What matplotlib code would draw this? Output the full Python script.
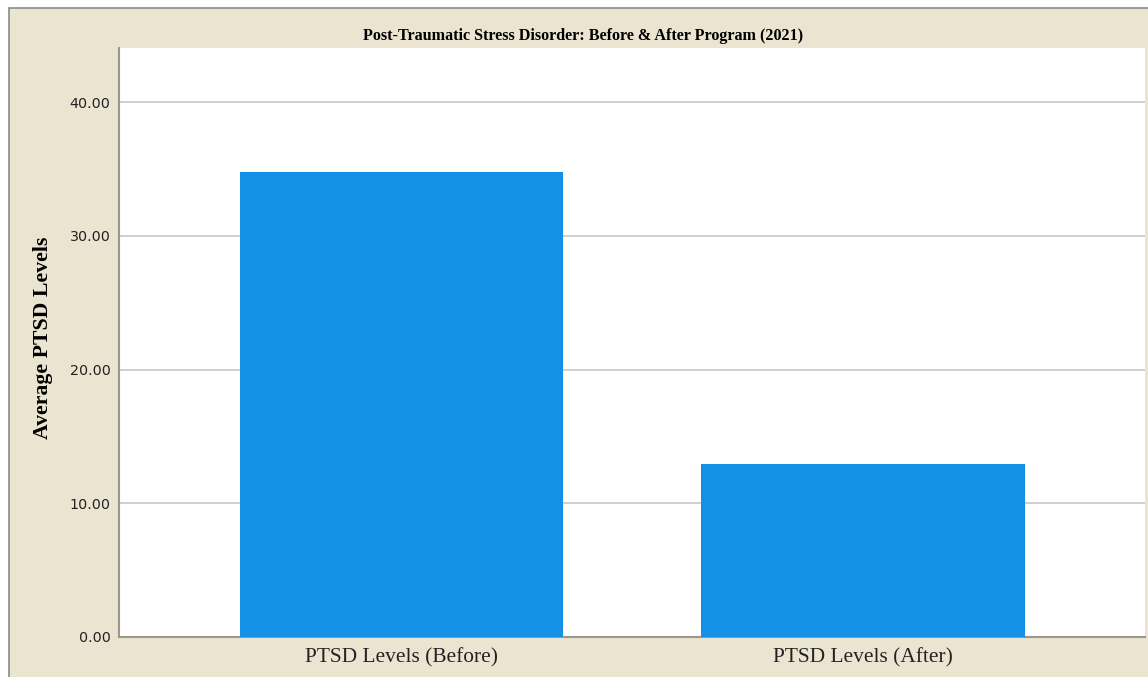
import matplotlib
matplotlib.use("Agg")
import matplotlib.pyplot as plt
from matplotlib.patches import Rectangle
from matplotlib.ticker import FormatStrFormatter

categories = ["PTSD Levels (Before)", "PTSD Levels (After)"]
values = [34.8, 12.95]
yticks = [0, 10, 20, 30, 40]
title = "Post-Traumatic Stress Disorder: Before & After Program (2021)"
ylabel = "Average PTSD Levels"

W, H = 1148, 677
fig = plt.figure(figsize=(W / 100, H / 100), dpi=100, facecolor="white")
beige = "#EBE4D0"
fig.patches.append(Rectangle((9 / W, -0.01), 1.02, (H - 8) / H + 0.01,
                             transform=fig.transFigure, facecolor=beige,
                             edgecolor="#8A8A8A", linewidth=1.2, zorder=-10))

ax = fig.add_axes([119 / W, 1 - 637 / H, (1145 - 119) / W, (637 - 48) / H])
ax.set_facecolor("white")
x = range(len(categories))
ax.bar(x, values, width=0.7, color="#1291E6", zorder=3)
ax.set_xlim(-0.612, 1.611)
ax.set_ylim(0, 44.05)
ax.set_yticks(yticks)
ax.yaxis.set_major_formatter(FormatStrFormatter("%.2f"))
ax.set_xticks(list(x))
ax.set_xticklabels(categories, fontfamily="Liberation Serif", fontsize=15.4)
ax.tick_params(axis="both", length=0, colors="#222222")
ax.tick_params(axis="y", labelsize=10.3, pad=6)
ax.tick_params(axis="x", pad=8)
ax.grid(axis="y", color="#CFCFCF", linewidth=1.4, zorder=0)
for s in ["top", "right"]:
    ax.spines[s].set_visible(False)
for s in ["left", "bottom"]:
    ax.spines[s].set_color("#9A968C")
    ax.spines[s].set_linewidth(1.5)
ax.set_ylabel(ylabel, fontfamily="Liberation Serif", fontweight="bold",
              fontsize=15.7)
ax.yaxis.set_label_coords((43 - 119) / (1145 - 119), 0.508)
ax.yaxis.label.set_va("center")
fig.text(583 / W, 1 - 36 / H, title, ha="center", va="center",
         fontfamily="Liberation Serif", fontweight="bold", fontsize=11.6)

fig.savefig("out.png", dpi=100, facecolor=fig.get_facecolor())
